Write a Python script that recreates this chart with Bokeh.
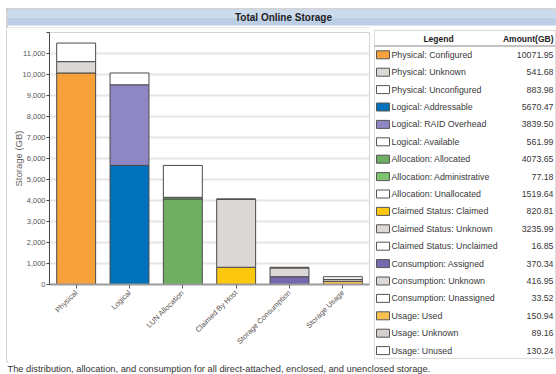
import math
from bokeh.plotting import figure
from bokeh.layouts import column, row
from bokeh.models import (ColumnDataSource, Range1d, Label, BoxAnnotation,
                          FixedTicker, NumeralTickFormatter, CustomJSTickFormatter)
from bokeh.core.properties import value
from bokeh.embed import file_html
from bokeh.resources import INLINE

# ---------------- data ----------------
categories = ["Physical", "Logical", "LUN Allocation", "Claimed By Host",
              "Storage Consumption", "Storage Usage"]
legend_labels = ["Physical: Configured", "Physical: Unknown", "Physical: Unconfigured",
                 "Logical: Addressable", "Logical: RAID Overhead", "Logical: Available",
                 "Allocation: Allocated", "Allocation: Administrative", "Allocation: Unallocated",
                 "Claimed Status: Claimed", "Claimed Status: Unknown", "Claimed Status: Unclaimed",
                 "Consumption: Assigned", "Consumption: Unknown", "Consumption: Unassigned",
                 "Usage: Used", "Usage: Unknown", "Usage: Unused"]
amounts = [10071.95, 541.68, 883.98,
           5670.47, 3839.50, 561.99,
           4073.65, 77.18, 1519.64,
           820.81, 3235.99, 16.85,
           370.34, 416.95, 33.52,
           150.94, 89.16, 130.24]
colors = ["#f7a13c", "#dcd8d5", "#ffffff",
          "#0072bb", "#8f87c3", "#ffffff",
          "#6fae63", "#7dc46f", "#ffffff",
          "#fcc70f", "#dcd8d5", "#ffffff",
          "#7469ad", "#dcd8d5", "#ffffff",
          "#f8c253", "#d3d0cd", "#ffffff"]
y_ticks = list(range(0, 12001, 1000))
title_text = "Total Online Storage"
footer_text = ("The distribution, allocation, and consumption for all direct-attached, "
               "enclosed, and unenclosed storage.")
y_axis_label = "Storage (GB)"
header_labels = ["Legend", "Amount(GB)"]

FONT = "Liberation Sans"
W, H = 556, 374
TOP_H = 28          # header strip height
MID_H = 332         # chart + legend strip height
BOT_H = H - TOP_H - MID_H
STRIP_W = 7         # left frame strip
CHART_W = 370 - STRIP_W
LEG_W = W - STRIP_W - CHART_W


def blank(width, height, x0, x1, y0, y1):
    f = figure(width=width, height=height, output_backend="svg", toolbar_location=None,
               x_range=Range1d(x0, x1), y_range=Range1d(y1, y0),
               x_axis_location=None, y_axis_location=None, min_border=0)
    f.grid.visible = False
    f.outline_line_color = None
    f.background_fill_color = "white"
    f.border_fill_color = "white"
    f.frame_align = False
    return f


def box(f, l, t, r, b, fill, line=None, lw=1):
    f.add_layout(BoxAnnotation(left=l, right=r, top=t, bottom=b,
                               fill_color=fill if fill else "white",
                               fill_alpha=1 if fill else 0,
                               line_color=line, line_width=lw))


def label(f, x, y, text, size, align="left", color="#333333", bold=False):
    f.add_layout(Label(x=x, y=y, text=text, text_font=FONT, text_font_size=size,
                       text_align=align, text_baseline="middle", text_color=color,
                       text_font_style="bold" if bold else "normal"))


# ---------------- header strip ----------------
head = blank(W, TOP_H, 0, W, 0, TOP_H)
box(head, 6, 8, 556, 9, "#a8a8a8")
box(head, 6, 8, 7, 28, "#a8a8a8")
box(head, 7, 9, 556, 17, "#cbdaec")
box(head, 7, 17, 556, 25, "#bccfe6")
box(head, 7, 27, 369, 28, "#d8d8d8")
label(head, 283, 17, title_text, "10px", "center", "#1e1e1e", True)

# ---------------- left frame strip ----------------
Y0 = TOP_H
strip = blank(STRIP_W, MID_H, 0, STRIP_W, Y0, Y0 + MID_H)
box(strip, 6, Y0, 7, Y0 + MID_H, "#a8a8a8")

# ---------------- chart ----------------
seg_x, seg_bottom, seg_top = [], [], []
for ci, cat in enumerate(categories):
    base = 0.0
    for k in range(3):
        v = amounts[ci * 3 + k]
        seg_x.append(ci + 0.5)
        seg_bottom.append(base)
        base += v
        seg_top.append(base)
src = ColumnDataSource(dict(x=seg_x, bottom=seg_bottom, top=seg_top, color=colors))

p = figure(width=CHART_W, height=MID_H, output_backend="svg", toolbar_location=None,
           x_range=Range1d(0, len(categories)), y_range=Range1d(0, 12000),
           min_border_left=49 - STRIP_W, min_border_right=1,
           min_border_top=4, min_border_bottom=76)
p.frame_align = False
p.outline_line_color = "#d4d4d4"
p.background_fill_color = "white"
p.border_fill_color = "white"

p.vbar(x="x", bottom="bottom", top="top", width=0.73, fill_color="color",
       line_color="#4a4a4a", line_width=1, source=src)

p.xgrid.grid_line_color = None
p.ygrid.grid_line_color = "#ebe4e4"
p.ygrid.grid_line_width = 2
p.yaxis.ticker = FixedTicker(ticks=y_ticks)
p.yaxis.formatter = NumeralTickFormatter(format="0,0")
p.yaxis.major_label_overrides = {12000: ""}
p.yaxis.axis_label = y_axis_label
p.yaxis.axis_label_text_font = FONT
p.yaxis.axis_label_text_font_style = "normal"
p.yaxis.axis_label_text_font_size = "9.5px"
p.yaxis.axis_label_text_color = "#666666"
p.yaxis.axis_label_standoff = -4
p.yaxis.major_label_text_font = FONT
p.yaxis.major_label_text_font_size = "7.5px"
p.yaxis.major_label_text_color = "#555555"
p.yaxis.major_label_standoff = 1
p.yaxis.major_tick_out = 3
p.yaxis.major_tick_in = 0
p.yaxis.minor_tick_line_color = None
p.yaxis.axis_line_color = "#444444"
p.yaxis.major_tick_line_color = "#444444"

p.xaxis.ticker = FixedTicker(ticks=[i + 0.5 for i in range(len(categories))])
p.xaxis.formatter = CustomJSTickFormatter(args=dict(names=categories),
                                          code="return names[Math.floor(tick)];")
p.xaxis.minor_tick_line_color = None
p.xaxis.major_label_orientation = math.pi / 4
p.xaxis.major_label_text_font = FONT
p.xaxis.major_label_text_font_size = "7.5px"
p.xaxis.major_label_text_color = "#5a5350"
p.xaxis.major_label_standoff = 3
p.xaxis.axis_line_color = "#9a9a9a"
p.xaxis.axis_line_width = 2
p.xaxis.major_tick_line_color = "#666666"
p.xaxis.major_tick_out = 4
p.xaxis.major_tick_in = 0

# ---------------- legend table ----------------
X0 = STRIP_W + CHART_W
leg = blank(LEG_W, MID_H, X0, W, Y0, Y0 + MID_H)
box(leg, 374, 30, 555, 358, None, "#8a8a8a", 1)
box(leg, 374, 45, 555, 46, "#8a8a8a")
label(leg, 438, 38, header_labels[0], "8.5px", "center", "#222222", True)
label(leg, 553, 38, header_labels[1], "8.5px", "right", "#222222", True)

row_y = [54.3 + i * 17.4 for i in range(len(legend_labels))]
leg_src = ColumnDataSource(dict(y=row_y, name=legend_labels,
                                amt=[f"{a:.2f}" for a in amounts], color=colors))
leg.rect(x=382.5, y="y", width=13, height=8, fill_color="color",
         line_color="#555555", line_width=1, source=leg_src)
leg.text(x=391, y="y", text="name", text_font=value(FONT), text_font_size="8.8px",
         text_color="#383838", text_align="left", text_baseline="middle", source=leg_src)
leg.text(x=553, y="y", text="amt", text_font=value(FONT), text_font_size="8.8px",
         text_color="#383838", text_align="right", text_baseline="middle", source=leg_src)

# ---------------- footer strip ----------------
Y1 = TOP_H + MID_H
foot = blank(W, BOT_H, 0, W, Y1, H)
box(foot, 6, Y1, 7, 362, "#a8a8a8")
label(foot, 7, 368, footer_text, "9.3px", "left", "#333333")

layout = column(head, row(strip, p, leg), foot)
open("out.html", "w").write(file_html(layout, INLINE))
